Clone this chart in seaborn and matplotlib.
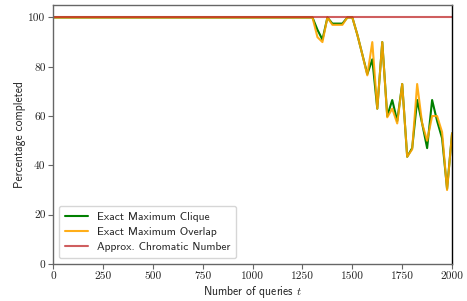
import numpy as np
import pandas as pd
import matplotlib
matplotlib.use("Agg")
import matplotlib.pyplot as plt
import seaborn as sns

# ---- data ----
queries = list(range(0, 2001, 25))

clique = [100] * 53 + [
    95, 91, 100, 97.5, 97.5, 97.5, 100, 100,
    93, 85, 77, 83, 63, 90, 60, 66.5,
    58, 73, 43.5, 47, 66.5, 57, 47, 66.5,
    58, 51, 30.5, 53,
]
overlap = [100] * 53 + [
    92, 90, 100, 97, 97, 97, 100, 100,
    93, 85, 76.5, 90, 63, 90, 59.5, 63,
    57, 73, 43.5, 46.5, 73, 57, 50, 60,
    60, 53.5, 30, 53,
]
chromatic = [100] * 81

series_names = ["Exact Maximum Clique", "Exact Maximum Overlap", "Approx. Chromatic Number"]
series_values = [clique, overlap, chromatic]
series_colors = ["green", "orange", "#c0282a"]
series_alpha = [1.0, 0.9, 0.75]

x_ticks = [0, 250, 500, 750, 1000, 1250, 1500, 1750, 2000]
y_ticks = [0, 20, 40, 60, 80, 100]

# ---- plotting ----
sns.set_style("white")
plt.rcParams["mathtext.fontset"] = "cm"

fig = plt.figure(figsize=(4.67, 3.01), dpi=100)
ax = fig.add_axes([0.114, 0.123, 0.854, 0.860])

for name, vals, col, a in zip(series_names, series_values, series_colors, series_alpha):
    df = pd.DataFrame({"t": queries, "v": vals})
    sns.lineplot(data=df, x="t", y="v", color=col, label=name, ax=ax,
                 linewidth=1.5, alpha=a)

ax.set_xlim(0, 2000)
ax.set_ylim(0, 105)
ax.set_xticks(x_ticks)
ax.set_yticks(y_ticks)
ax.set_xticklabels([str(v) for v in x_ticks], fontfamily="cmr10", fontsize=8.2)
ax.set_yticklabels([str(v) for v in y_ticks], fontfamily="cmr10", fontsize=8.2)
ax.tick_params(axis="both", which="both", direction="out", length=3.5,
               width=0.8, color="#666666", pad=2, bottom=True, left=True)

ax.set_xlabel("Number of queries $t$", fontfamily="cmss10", fontsize=8.4, labelpad=2)
ax.set_ylabel("Percentage completed", fontfamily="cmss10", fontsize=8.4, labelpad=2)

for side in ["left", "bottom", "top"]:
    ax.spines[side].set_color("#666666")
    ax.spines[side].set_linewidth(1.0)
ax.spines["right"].set_color("black")
ax.spines["right"].set_linewidth(1.0)

leg = ax.legend(loc="lower left", prop={"family": "cmss10", "size": 8.3},
                frameon=True, fancybox=True, framealpha=0.8,
                edgecolor="#cccccc", handlelength=2.0, borderpad=0.5,
                labelspacing=0.45)

fig.savefig("out.png", dpi=100)
